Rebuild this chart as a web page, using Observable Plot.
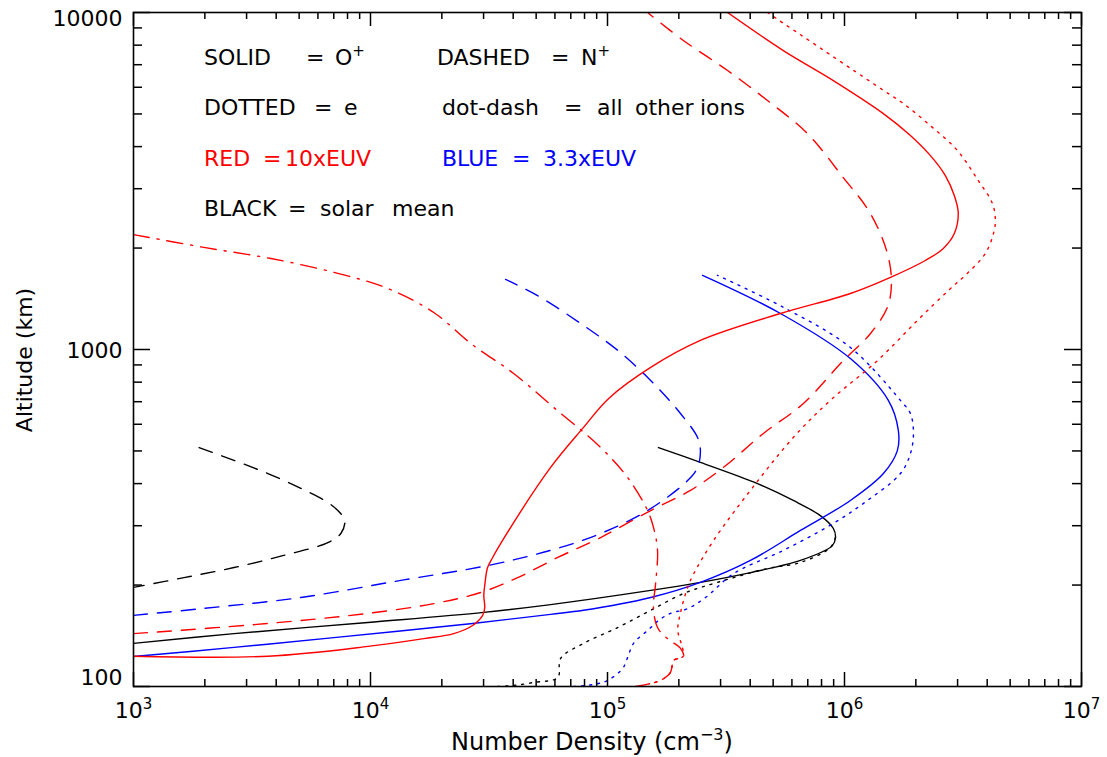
<!DOCTYPE html>
<html>
<head>
<meta charset="utf-8">
<script src="https://cdn.jsdelivr.net/npm/d3@7"></script>
<script src="https://cdn.jsdelivr.net/npm/@observablehq/plot@0.6"></script>
<style>
  html, body { margin: 0; padding: 0; background: #fff; }
  #chart { width: 1107px; height: 757px; }
</style>
</head>
<body>
<div id="chart"></div>
<script>
// ---- Data: [number density (cm^-3), altitude (km)] ----
// 10 x EUV (red)
const redOPlus = [[1000,123],[3690,123],[9750,131.5],[16790,138.7],[22440,143.5],[26980,151.7],[29720,162.5],[30340,171.4],[30060,186.2],[30340,199.5],[31190,225.4],[32780,241.5],[35400,265.5],[57540,446.7],[79250,587.5],[101200,716],[152100,885],[246600,1064],[537000,1279],[1059000,1466],[1563000,1637],[2193000,1837],[2612000,1995],[2906000,2208],[3020000,2535],[2906000,2864],[2664000,3281],[2300000,3767],[1897000,4315],[1459000,5012],[897000,6281],[552000,7709],[321000,10000]];
const redNPlus = [[1000,143.5],[3690,153.8],[9750,164.8],[18490,176.2],[29170,190.1],[41780,210.4],[61660,241.5],[93540,276.7],[152100,332.7],[223900,381.9],[308300,446.7],[454900,563.6],[671000,691.8],[988600,927],[1285000,1114],[1517000,1334],[1578000,1570],[1517000,1928],[1285000,2535],[988600,3236],[697000,4375],[473000,5483],[321000,6730],[209000,8260],[147600,10000]];
const redElectrons = [[473000,10000],[1459000,5875],[1770000,5370],[2300000,4620],[2990000,3899],[3670000,3170],[4210000,2710],[4330000,2415],[4250000,2208],[3930000,1928],[3300000,1683],[2742000,1496],[2030000,1219],[1377000,927],[871000,706],[608000,548],[401000,382],[280000,271],[231000,216],[218000,197],[203000,165],[198000,146.6],[207000,130.6],[209000,123],[190000,119.4],[185000,110.2],[167000,104.2],[152000,102.1],[131000,100]];
const redOtherIons = [[1000,2193],[1982,2009],[3802,1862],[7278,1683],[11830,1517],[18490,1288],[26490,1042],[40180,849],[59290,673],[93540,512],[121600,417],[147600,333],[156300,296.5],[162600,253.5],[159600,202.3],[156300,171.4],[162600,149.6],[179100,138.7],[203200,129.8],[209400,122.7],[190100,119.4],[184400,110.2],[167500,104.2],[131200,100]];
// 3.3 x EUV (blue)
const blueOPlus = [[1000,122.7],[2655,130.6],[7000,139.6],[26980,153.8],[57540,163.7],[79250,168.3],[152100,183.7],[246600,203.7],[401000,236.6],[651600,290.4],[1059000,356.5],[1459000,428.5],[1671000,501.2],[1687000,575.4],[1531000,706.3],[1059000,939.8],[537000,1279],[251800,1660]];
const blueNPlus = [[1000,162.6],[1928,170.2],[5082,183.7],[13430,206.5],[31190,228.5],[57540,253.5],[93540,284.4],[147600,332.7],[217800,408.3],[239900,446.7],[246600,501.2],[239900,548],[203200,645.7],[162600,770.9],[113500,979],[77100,1194],[50700,1445],[37150,1614]];
const blueElectrons = [[71940,100],[87300,101.4],[100100,104.2],[115800,113.1],[121600,121.9],[128800,134.3],[147600,146.6],[164100,156.9],[184400,164.8],[217800,170.2],[259200,183.7],[340400,216.3],[552100,253.5],[897500,304.8],[1250000,356.5],[1722000,428.5],[1897000,491],[1954000,563.6],[1897000,645.7],[1722000,706.3],[1059000,1014],[552100,1334],[291100,1660]];
// solar mean (black)
const blackOPlus = [[1000,134.3],[2655,143.5],[9750,154.9],[30060,166],[57540,175],[152100,192.8],[246600,203.7],[401000,217.8],[651600,236.6],[889000,261.8],[916200,276.7],[897500,294.4],[790700,321.4],[608100,356.5],[429500,400],[246600,462.4],[164100,511.7]];
const blackNPlus = [[1892,511.7],[2655,468.8],[3690,428.5],[5082,387.3],[6607,351.6],[7499,325.6],[7798,311.2],[7499,284.4],[6607,267.3],[4305,244.9],[2655,225.4],[1633,210.4],[1000,196.8]];
const blackElectrons = [[916200,276.7],[871000,258.2],[651600,233.3],[473200,223.9],[291100,203.7],[209400,188.8],[152100,168.3],[110400,149.6],[79250,134.3],[63390,121.1],[61660,106.4],[48750,102.8],[40180,100.7],[33730,100]];

// ---- Ticks ----
const xMajor = [1e3, 1e4, 1e5, 1e6, 1e7];
const xMinor = [2e3,3e3,4e3,5e3,6e3,7e3,8e3,9e3,2e4,3e4,4e4,5e4,6e4,7e4,8e4,9e4,2e5,3e5,4e5,5e5,6e5,7e5,8e5,9e5,2e6,3e6,4e6,5e6,6e6,7e6,8e6,9e6];
const yMajor = [100, 1000, 10000];
const yMinor = [200,300,400,500,600,700,800,900,2000,3000,4000,5000,6000,7000,8000,9000];
const xExponents = ["3","4","5","6","7"];

// ---- Layout / styles ----
const W = 1107, H = 757, mL = 133, mR = 26, mT = 12, mB = 71;
const pw = W - mL - mR, ph = H - mT - mB;
const FONT = "'DejaVu Sans', sans-serif";
const DASH = "14,10", DOT = "2,6", DOTDASH = "16,8,2,8";
const LW = 1.4;

function curve(data, color, dash) {
  return Plot.line(data, {x: d => d[0], y: d => d[1], stroke: color, strokeWidth: LW,
    strokeDasharray: dash, curve: "catmull-rom", clip: true});
}

const tk = {stroke: "black", strokeWidth: 1.5};
const svg = Plot.plot({
  width: W, height: H,
  marginLeft: mL, marginRight: mR, marginTop: mT, marginBottom: mB,
  x: {type: "log", domain: [1e3, 1e7]},
  y: {type: "log", domain: [100, 10000]},
  style: {fontFamily: FONT, fontSize: "22px", background: "white", color: "black", overflow: "visible"},
  marks: [
    curve(blackNPlus, "black", DASH),
    curve(blackElectrons, "black", DOT),
    curve(blackOPlus, "black", null),
    curve(blueNPlus, "#0000ff", DASH),
    curve(blueElectrons, "#0000ff", DOT),
    curve(blueOPlus, "#0000ff", null),
    curve(redOtherIons, "#ff0000", DOTDASH),
    curve(redNPlus, "#ff0000", DASH),
    curve(redElectrons, "#ff0000", DOT),
    curve(redOPlus, "#ff0000", null),
    // ticks (inward, all four sides)
    Plot.ruleX(xMajor, {x: d => d, insetTop: ph - 14, ...tk}),
    Plot.ruleX(xMajor, {x: d => d, insetBottom: ph - 14, ...tk}),
    Plot.ruleX(xMinor, {x: d => d, insetTop: ph - 7, ...tk}),
    Plot.ruleX(xMinor, {x: d => d, insetBottom: ph - 7, ...tk}),
    Plot.ruleY(yMajor, {y: d => d, insetRight: pw - 17, ...tk}),
    Plot.ruleY(yMajor, {y: d => d, insetLeft: pw - 17, ...tk}),
    Plot.ruleY(yMinor, {y: d => d, insetRight: pw - 9, ...tk}),
    Plot.ruleY(yMinor, {y: d => d, insetLeft: pw - 9, ...tk}),
    Plot.frame({stroke: "black", strokeWidth: 1.6}),
    Plot.axisX(xMajor, {tickSize: 0, tickPadding: 16, label: null,
      tickFormat: d => "10" + xExponents[xMajor.indexOf(d)]}),
    Plot.axisY([10000], {tickSize: 0, tickPadding: 11, dy: 6, label: null, tickFormat: d => String(d)}),
    Plot.axisY([1000], {tickSize: 0, tickPadding: 11, dy: 1, label: null, tickFormat: d => String(d)}),
    Plot.axisY([100], {tickSize: 0, tickPadding: 11, dy: -9, label: null, tickFormat: d => String(d)})
  ]
});

const s = d3.select(svg);
// superscript exponents on x tick labels
s.selectAll('g[aria-label="x-axis tick label"] text').each(function() {
  const t = this.textContent;
  if (/^10\d$/.test(t)) {
    const e = t.slice(2);
    this.textContent = "10";
    d3.select(this).append("tspan").attr("dy", -9).attr("font-size", 15).text(e);
  }
});

const g = s.append("g").attr("font-family", FONT).attr("font-size", 22).attr("text-anchor", "start");
function put(x, y, str, color, sup) {
  const t = g.append("text").attr("x", x).attr("y", y).attr("fill", color || "black").text(str);
  if (sup) t.append("tspan").attr("dy", -9).attr("font-size", 15).text(sup);
  return t;
}
// legend
put(204, 65, "SOLID"); put(306, 65, "="); put(335, 65, "O", null, "+");
put(437, 65, "DASHED"); put(551, 65, "="); put(581, 65, "N", null, "+");
put(204, 115, "DOTTED"); put(314, 115, "="); put(344, 115, "e");
put(442, 115, "dot-dash"); put(564, 115, "="); put(597, 115, "all"); put(635, 115, "other"); put(700, 115, "ions");
put(204, 166, "RED", "#ff0000"); put(263, 166, "=", "#ff0000"); put(285, 166, "10xEUV", "#ff0000");
put(442, 166, "BLUE", "#0000ff"); put(512, 166, "=", "#0000ff"); put(543, 166, "3.3xEUV", "#0000ff");
put(204, 216, "BLACK"); put(288, 216, "="); put(320, 216, "solar"); put(392, 216, "mean");

// axis titles
g.append("text").attr("transform", "translate(32,360) rotate(-90)").attr("text-anchor", "middle").text("Altitude (km)");
const xt = g.append("text").attr("x", 592).attr("y", 750).attr("text-anchor", "middle").attr("font-size", 24).text("Number Density (cm");
xt.append("tspan").attr("dy", -10).attr("font-size", 16).text("−3");
xt.append("tspan").attr("dy", 10).text(")");

document.getElementById("chart").appendChild(svg);
</script>
</body>
</html>
